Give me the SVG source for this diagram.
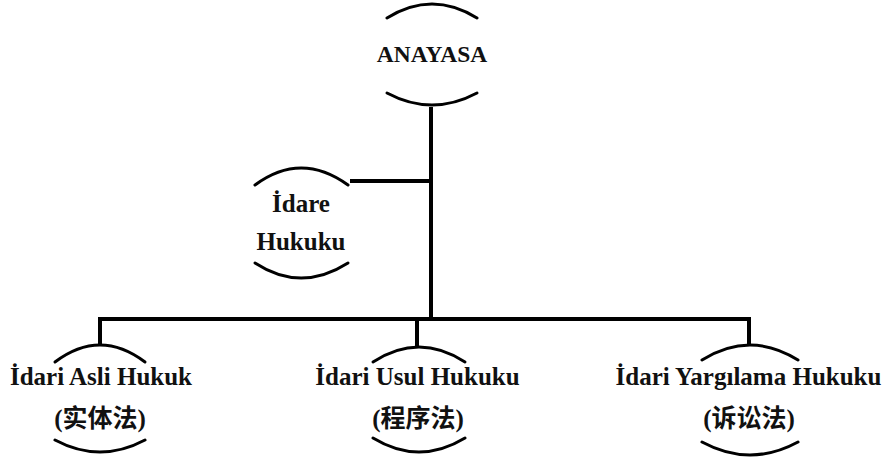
<svg xmlns="http://www.w3.org/2000/svg" width="890" height="462" viewBox="0 0 890 462">
<style>
.arc{fill:none;stroke:#000;stroke-width:3;stroke-linecap:round}
.ln{fill:none;stroke:#000;stroke-width:4}
.t{font-family:"Liberation Serif","Noto Sans CJK SC",serif;font-weight:bold;font-size:25px;fill:#111;text-anchor:middle}
</style>
<rect width="890" height="462" fill="#fff"/>
<g id="connectors">
<path class="ln" d="M431 107 V321"/>
<path class="ln" d="M350 181 H433"/>
<path class="ln" d="M98 319 H751"/>
<path class="ln" d="M100 317 V345"/>
<path class="ln" d="M417 319 V347"/>
<path class="ln" d="M749 317 V345"/>
</g>
<g id="anayasa">
<path class="arc" d="M387 18 Q432 -10 477 18"/>
<path class="arc" d="M387 93 Q432 117 477 93"/>
<text class="t" x="432" y="62" style="font-size:23.5px">ANAYASA</text>
</g>
<g id="idare-hukuku">
<path class="arc" d="M255 185 Q301 151 348 185"/>
<path class="arc" d="M255 263 Q301 293 348 263"/>
<text class="t" x="301" y="212">İdare</text>
<text class="t" x="301" y="250">Hukuku</text>
</g>
<g id="idari-asli-hukuk">
<path class="arc" d="M55 362 Q100 328 145 362"/>
<path class="arc" d="M55 440 Q100 464 145 440"/>
<text class="t" x="101" y="385">İdari Asli Hukuk</text>
<text class="t" x="100" y="427">(实体法)</text>
</g>
<g id="idari-usul-hukuku">
<path class="arc" d="M373 362 Q419 332 465 362"/>
<path class="arc" d="M373 438 Q419 466 465 438"/>
<text class="t" x="417.5" y="385">İdari Usul Hukuku</text>
<text class="t" x="418" y="427">(程序法)</text>
</g>
<g id="idari-yargilama-hukuku">
<path class="arc" d="M702 360 Q750 330 798 360"/>
<path class="arc" d="M702 442 Q750 468 798 442"/>
<text class="t" x="748.5" y="385">İdari Yargılama Hukuku</text>
<text class="t" x="749" y="427">(诉讼法)</text>
</g>
</svg>
